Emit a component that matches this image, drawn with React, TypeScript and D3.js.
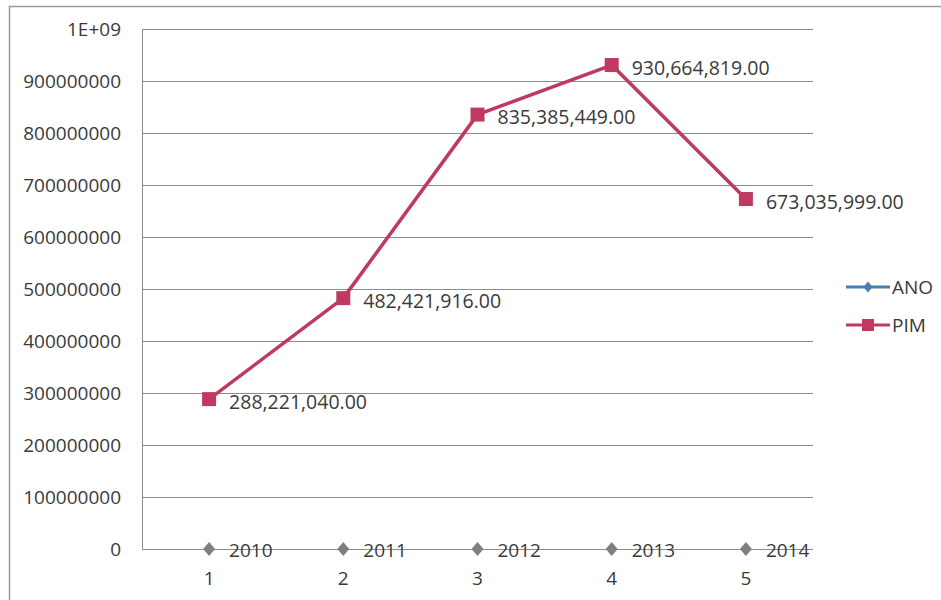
import React from "react";
import * as d3 from "d3";

const categories = ["1", "2", "3", "4", "5"];
const anoValues = [2010, 2011, 2012, 2013, 2014];
const pimValues = [288221040, 482421916, 835385449, 930664819, 673035999];
const yTicks = [0, 100000000, 200000000, 300000000, 400000000, 500000000, 600000000, 700000000, 800000000, 900000000, 1000000000];
const yTickLabels = ["0", "100000000", "200000000", "300000000", "400000000", "500000000", "600000000", "700000000", "800000000", "900000000", "1E+09"];
const seriesNames = ["ANO", "PIM"];

const W = 941, H = 600;
const FONT = "'Open Sans', sans-serif";
const TXT = "#3a3a3a";
const GRID = "#8c8c8c";
const PIM = "#c0395e";
const ANO = "#4a7eb0";
const GRAYMK = "#7f7f7f";

const diamondPath = (w: number, h: number) => `M0,${-h / 2}L${w / 2},0L0,${h / 2}L${-w / 2},0Z`;

export default function App() {
  const x = d3.scaleBand<string>().domain(categories).range([142, 813]);
  const y = d3.scaleLinear().domain([0, 1000000000]).range([549, 29]);
  const cx = (i: number) => (x(categories[i]) as number) + x.bandwidth() / 2;
  const line = d3.line<number>().x((_, i) => cx(i)).y((d) => y(d));
  const fmt = (v: number) => d3.format(",.2f")(v);

  return (
    <svg width={W} height={H} style={{ position: "absolute", left: 0, top: 0, background: "#fff" }}>
      <rect x={0} y={0} width={W} height={H} fill="#fff" />
      <path d={`M9.5,${H} V6.5 H${W}`} fill="none" stroke="#9a9a9a" strokeWidth={1.5} />
      {yTicks.map((t, i) => (
        <line key={i} x1={142} x2={813} y1={Math.round(y(t)) + 0.5} y2={Math.round(y(t)) + 0.5} stroke={GRID} strokeWidth={1} />
      ))}
      <line x1={142.5} x2={142.5} y1={y(1000000000)} y2={y(0)} stroke={GRID} strokeWidth={1} />
      {yTicks.map((t, i) => (
        <text key={i} x={121} y={y(t)} dy="0.35em" textAnchor="end" fontFamily={FONT} fontSize={19} fill={TXT}>
          {yTickLabels[i]}
        </text>
      ))}
      {categories.map((c, i) => (
        <text key={c} x={cx(i)} y={578} dy="0.35em" textAnchor="middle" fontFamily={FONT} fontSize={19} fill={TXT}>
          {c}
        </text>
      ))}
      {anoValues.map((v, i) => (
        <g key={i}>
          <path d={diamondPath(12, 14)} transform={`translate(${cx(i)},${y(v)})`} fill={GRAYMK} />
          <text x={cx(i) + 20} y={y(v) + 1} dy="0.35em" fontFamily={FONT} fontSize={19} fill={TXT}>{v}</text>
        </g>
      ))}
      <path d={line(pimValues) as string} fill="none" stroke={PIM} strokeWidth={3.5} strokeLinejoin="round" />
      {pimValues.map((v, i) => (
        <g key={i}>
          <rect x={cx(i) - 7} y={y(v) - 7} width={14} height={14} fill={PIM} />
          <text x={cx(i) + 20} y={y(v) + 3} dy="0.35em" fontFamily={FONT} fontSize={19.5} fill={TXT}>{fmt(v)}</text>
        </g>
      ))}
      {seriesNames.map((s, i) => {
        const ly = 287 + i * 38;
        const col = i === 0 ? ANO : PIM;
        return (
          <g key={s}>
            <line x1={846} x2={890} y1={ly} y2={ly} stroke={col} strokeWidth={3} />
            {i === 0 ? (
              <path d={diamondPath(9, 11)} transform={`translate(868,${ly})`} fill={col} />
            ) : (
              <rect x={862} y={ly - 6} width={12} height={12} fill={col} />
            )}
            <text x={892} y={ly} dy="0.35em" fontFamily={FONT} fontSize={19} fill={TXT}>{s}</text>
          </g>
        );
      })}
    </svg>
  );
}
